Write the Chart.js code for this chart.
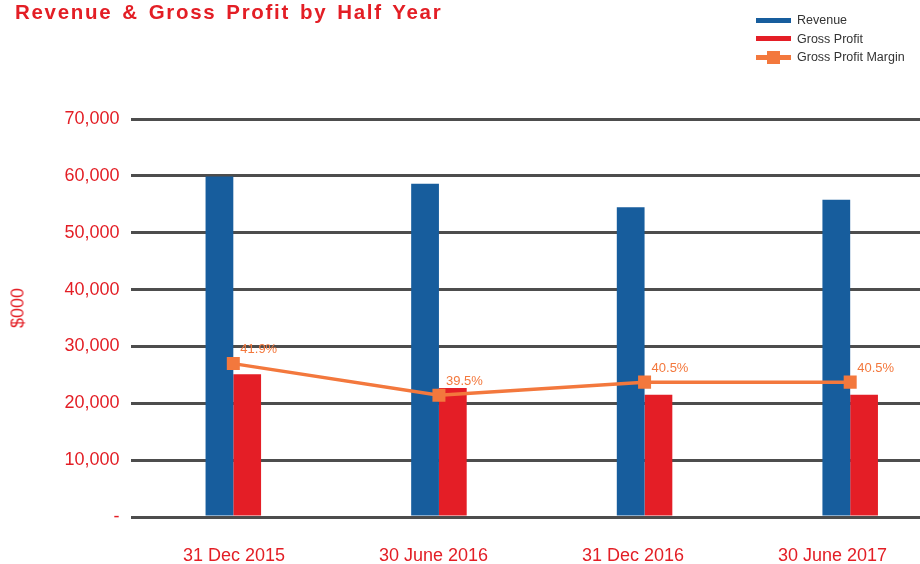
<!DOCTYPE html>
<html>
<head>
<meta charset="utf-8">
<title>Revenue & Gross Profit by Half Year</title>
<script src="https://cdn.jsdelivr.net/npm/chart.js@4.4.1/dist/chart.umd.min.js"></script>
<style>
  html, body { margin: 0; padding: 0; background: #fff; overflow: hidden; }
  body { width: 920px; height: 564px; position: relative; font-family: "Liberation Sans", Arial, sans-serif; }
  #chart { position: absolute; left: 0; top: 0; }
  .title {
    position: absolute; left: 15px; top: 2px;
    font-size: 20.5px; line-height: 20px; font-weight: bold;
    letter-spacing: 1.7px; word-spacing: 2.5px; color: #e31e25; white-space: nowrap;
  }
  .ytitle {
    position: absolute; left: 18px; top: 308px;
    transform: translate(-50%, -50%) rotate(-90deg);
    font-size: 18px; color: #e31e25; white-space: nowrap;
  }
  #legend { position: absolute; left: 756px; top: 11px; }
  .item { display: flex; align-items: center; height: 18.5px; font-size: 12.5px; color: #333; white-space: nowrap; }
  .swatch { width: 35px; height: 5px; margin-right: 6px; position: relative; }
  .swatch .mark { position: absolute; left: 11px; top: -4px; width: 13px; height: 13px; }
</style>
</head>
<body>
<canvas id="chart" width="954" height="564"></canvas>
<div class="title">Revenue &amp; Gross Profit by Half Year</div>
<div class="ytitle">$000</div>
<div id="legend"></div>
<script>
// data
const periods = ["31 Dec 2015", "30 June 2016", "31 Dec 2016", "30 June 2017"];
const revenue = [59900, 58600, 54500, 55800];
const grossProfit = [25100, 22700, 21500, 21500];
const grossMargin = [41.9, 39.5, 40.5, 40.5];
const yTicks = [0, 10000, 20000, 30000, 40000, 50000, 60000, 70000];

const BLUE = "#175d9d";
const RED = "#e41e26";
const ORANGE = "#f3783d";
const TEXT_RED = "#e31e25";
const FONT = "'Liberation Sans', Arial, sans-serif";

// margin labels next to each marker
const marginLabels = {
  id: "marginLabels",
  afterDatasetsDraw(chart) {
    const meta = chart.getDatasetMeta(2);
    const ctx = chart.ctx;
    ctx.save();
    ctx.font = "13px " + FONT;
    ctx.fillStyle = ORANGE;
    ctx.textAlign = "left";
    ctx.textBaseline = "middle";
    meta.data.forEach((pt, i) => {
      ctx.fillText(grossMargin[i].toFixed(1) + "%", pt.x + 7, pt.y - 14);
    });
    ctx.restore();
  }
};

const chart = new Chart(document.getElementById("chart"), {
  type: "bar",
  data: {
    labels: periods,
    datasets: [
      {
        label: "Revenue",
        data: revenue,
        backgroundColor: BLUE,
        categoryPercentage: 0.27,
        barPercentage: 1,
        order: 1,
        yAxisID: "y"
      },
      {
        label: "Gross Profit",
        data: grossProfit,
        backgroundColor: RED,
        categoryPercentage: 0.27,
        barPercentage: 1,
        order: 1,
        yAxisID: "y"
      },
      {
        type: "line",
        label: "Gross Profit Margin",
        data: grossMargin,
        borderColor: ORANGE,
        backgroundColor: ORANGE,
        borderWidth: 3.5,
        pointStyle: "rect",
        pointRadius: 9.2,
        pointBorderWidth: 0,
        tension: 0,
        order: 0,
        yAxisID: "y1"
      }
    ]
  },
  options: {
    responsive: false,
    animation: false,
    layout: { autoPadding: false, padding: { top: 119, right: 1, bottom: 0, left: 0 } },
    plugins: {
      legend: { display: false },
      tooltip: { enabled: false }
    },
    scales: {
      x: {
        display: false
      },
      // period labels sit on a slightly tighter spacing than the bars
      xLabels: {
        type: "linear",
        position: "bottom",
        offset: false,
        min: -0.519,
        max: 3.604,
        afterBuildTicks(scale) { scale.ticks = periods.map((p, i) => ({ value: i })); },
        grid: { display: false, drawTicks: false },
        border: { display: false },
        ticks: {
          color: TEXT_RED,
          padding: 28,
          maxRotation: 0,
          autoSkip: false,
          font: { family: FONT, size: 18 },
          callback: v => periods[v]
        },
        afterFit(scale) { scale.height = 47; }
      },
      y: {
        min: 0,
        max: 70000,
        afterBuildTicks(scale) { scale.ticks = yTicks.map(v => ({ value: v })); },
        grid: { color: "#4d4d4d", lineWidth: 3, drawTicks: false },
        border: { display: false },
        ticks: {
          color: TEXT_RED,
          padding: 11,
          font: { family: FONT, size: 18 },
          callback: v => (v === 0 ? "-" : v.toLocaleString("en-US"))
        },
        afterFit(scale) { scale.width = 130.5; }
      },
      y1: {
        display: false,
        min: 30.3,
        max: 60.4
      }
    }
  },
  plugins: [marginLabels]
});

// legend built from the datasets
const legend = document.getElementById("legend");
chart.data.datasets.forEach(ds => {
  const item = document.createElement("div");
  item.className = "item";
  const sw = document.createElement("span");
  sw.className = "swatch";
  sw.style.background = ds.type === "line" ? ds.borderColor : ds.backgroundColor;
  if (ds.type === "line") {
    const mark = document.createElement("span");
    mark.className = "mark";
    mark.style.background = ds.backgroundColor;
    sw.appendChild(mark);
  }
  item.appendChild(sw);
  item.appendChild(document.createTextNode(ds.label));
  legend.appendChild(item);
});
</script>
</body>
</html>
